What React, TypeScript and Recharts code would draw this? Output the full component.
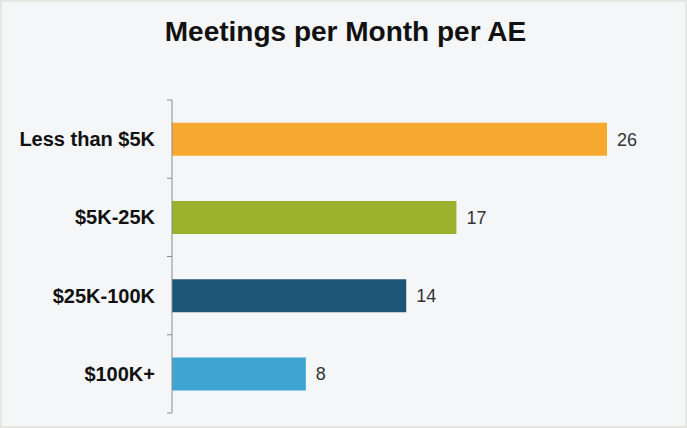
import { BarChart, Bar, XAxis, YAxis, Cell, LabelList } from "recharts";

const categories = ["Less than $5K", "$5K-25K", "$25K-100K", "$100K+"];
const meetings = [26, 17, 14, 8];
const barColors = ["#F6A92E", "#9CB12B", "#1C5577", "#3EA4D1"];

const data = categories.map((name, i) => ({ name, value: meetings[i] }));

const WIDTH = 687;
const HEIGHT = 428;
const TOP = 100;
const BOTTOM = 15;
const BAND = (HEIGHT - TOP - BOTTOM) / categories.length;

function CategoryTick(props: any) {
	const { x, y, payload, index } = props;
	return (
		<g>
			<text
				x={x - 9}
				y={y}
				dy={7}
				textAnchor="end"
				fontSize={20}
				fontWeight="bold"
				fill="#111"
				fontFamily="Liberation Sans, Arial, sans-serif"
			>
				{payload.value}
			</text>
			<line x1={x + 3} x2={x + 8} y1={y - BAND / 2} y2={y - BAND / 2} stroke="#8a8a8a" />
			{index === categories.length - 1 && (
				<line x1={x + 3} x2={x + 8} y1={y + BAND / 2} y2={y + BAND / 2} stroke="#8a8a8a" />
			)}
		</g>
	);
}

export default function App() {
	return (
		<div
			style={{
				position: "absolute",
				left: 0,
				top: 0,
				width: WIDTH,
				height: HEIGHT,
				background: "#f5f6f7",
				boxSizing: "border-box",
				border: "2px solid #e6e6e3",
				fontFamily: "Liberation Sans, Arial, sans-serif",
			}}
		>
			<div
				style={{
					position: "absolute",
					left: 0,
					width: WIDTH,
					top: 14,
					textAlign: "center",
					fontSize: 28,
					fontWeight: "bold",
					color: "#111",
				}}
			>
				Meetings per Month per AE
			</div>
			<BarChart
				width={WIDTH - 4}
				height={HEIGHT - 4}
				data={data}
				layout="vertical"
				margin={{ top: TOP - 2, right: 78, bottom: BOTTOM - 2, left: 10 }}
				barCategoryGap="29%"
			>
				<XAxis type="number" domain={[0, 26]} hide />
				<YAxis
					type="category"
					dataKey="name"
					width={160}
					axisLine={{ stroke: "#8a8a8a" }}
					tickLine={false}
					tick={<CategoryTick />}
				/>
				<Bar dataKey="value" isAnimationActive={false}>
					{data.map((d, i) => (
						<Cell key={d.name} fill={barColors[i]} />
					))}
					<LabelList
						dataKey="value"
						position="right"
						offset={10}
						fill="#333"
						fontSize={18}
						fontFamily="Liberation Sans, Arial, sans-serif"
					/>
				</Bar>
			</BarChart>
		</div>
	);
}
